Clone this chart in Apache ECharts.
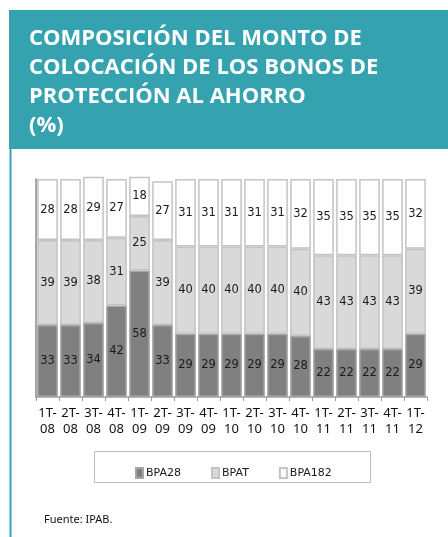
<!DOCTYPE html>
<html>
<head>
<meta charset="utf-8">
<script src="https://cdn.jsdelivr.net/npm/echarts@6/dist/echarts.min.js"></script>
<style>
  html, body { margin: 0; padding: 0; background: #fff; }
  #chart { width: 448px; height: 537px; }
</style>
</head>
<body>
<div id="chart"></div>
<script>
// Quarterly placement mix of IPAB savings-protection bonds (%)
const quarters = ['1T-\n08','2T-\n08','3T-\n08','4T-\n08','1T-\n09','2T-\n09','3T-\n09','4T-\n09',
                  '1T-\n10','2T-\n10','3T-\n10','4T-\n10','1T-\n11','2T-\n11','3T-\n11','4T-\n11','1T-\n12'];
const bpa28  = [33,33,34,42,58,33,29,29,29,29,29,28,22,22,22,22,29];
const bpat   = [39,39,38,31,25,39,40,40,40,40,40,40,43,43,43,43,39];
const bpa182 = [28,28,29,27,18,27,31,31,31,31,31,32,35,35,35,35,32];

const seriesNames = ['BPA28', 'BPAT', 'BPA182'];
const titleText = 'COMPOSICIÓN DEL MONTO DE\nCOLOCACIÓN DE LOS BONOS DE\nPROTECCIÓN AL AHORRO\n(%)';
const sourceText = 'Fuente: IPAB.';

const teal = '#35a3af';
const labelStyle = {
  show: true, position: 'inside', color: '#1a1a1a',
  fontFamily: 'DejaVu Sans', fontSize: 11.5
};

function barSeries(name, data, fill, border) {
  return {
    name, type: 'bar', stack: 'total', data, clip: false,
    barCategoryGap: '10%',
    itemStyle: { color: fill, borderColor: border, borderWidth: 1.5 },
    label: labelStyle,
    emphasis: { disabled: true }
  };
}

const chart = echarts.init(document.getElementById('chart'), null, { renderer: 'canvas' });
chart.setOption({
  animation: false,
  backgroundColor: '#ffffff',
  graphic: [
    { type: 'rect', shape: { x: 9, y: 10, width: 439, height: 139 }, style: { fill: teal }, z: 0 },
    { type: 'rect', shape: { x: 9.5, y: 149, width: 2, height: 388 }, style: { fill: teal }, z: 0 },
    { type: 'text', left: 29, top: 24, z: 5,
      style: { text: titleText, fill: '#ffffff', font: 'bold 22px "Open Sans"', lineHeight: 29 } },
    { type: 'rect', shape: { x: 94.5, y: 451.5, width: 276, height: 31 },
      style: { fill: 'none', stroke: '#bdbdbd', lineWidth: 1 }, z: 1 },
    { type: 'text', left: 44, top: 514, z: 5,
      style: { text: sourceText, fill: '#111', font: '11px "Noto Sans"' } }
  ],
  legend: {
    data: seriesNames,
    left: 130, top: 462,
    itemWidth: 7, itemHeight: 10, itemGap: 30,
    icon: 'rect',
    textStyle: { fontFamily: 'DejaVu Sans', fontSize: 11, color: '#1a1a1a', padding: [0, 0, 0, -2] },
    selectedMode: false
  },
  grid: { left: 36, right: 21, top: 179, bottom: 140, containLabel: false },
  xAxis: {
    type: 'category', data: quarters,
    axisLine: { lineStyle: { color: '#9a9a9a', width: 1.5 } },
    axisTick: { show: true, length: 4, lineStyle: { color: '#9a9a9a' } },
    axisLabel: { color: '#111', fontFamily: 'Noto Sans', fontSize: 13, lineHeight: 16, margin: 8, interval: 0 }
  },
  yAxis: {
    type: 'value', min: 0, max: 100,
    axisLine: { show: true, lineStyle: { color: '#8a8a8a', width: 1.5 } },
    axisTick: { show: false }, axisLabel: { show: false }, splitLine: { show: false }
  },
  series: [
    barSeries(seriesNames[0], bpa28, '#808080', '#a6a6a6'),
    barSeries(seriesNames[1], bpat, '#d9d9d9', '#c4c4c4'),
    barSeries(seriesNames[2], bpa182, '#ffffff', '#c4c4c4')
  ]
});
</script>
</body>
</html>
